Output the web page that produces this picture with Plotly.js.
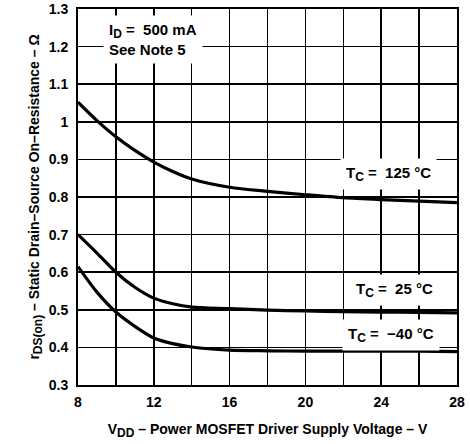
<!DOCTYPE html>
<html>
<head>
<meta charset="utf-8">
<script src="https://cdn.plot.ly/plotly-3.0.1.min.js"></script>
<style>html,body{margin:0;padding:0;background:#fff;}#chart{width:470px;height:444px;}</style>
</head>
<body>
<div id="chart"></div>
<script>
const vdd = [8, 9, 10, 11, 12, 13, 14, 16, 18, 20, 22, 24, 26, 28];
const r125 = [1.052, 1.003, 0.960, 0.924, 0.893, 0.868, 0.848, 0.826, 0.815, 0.806, 0.798, 0.793, 0.789, 0.785];
const r25 = [0.700, 0.651, 0.600, 0.560, 0.531, 0.516, 0.507, 0.503, 0.499, 0.497, 0.495, 0.494, 0.493, 0.492];
const rm40 = [0.615, 0.547, 0.494, 0.456, 0.425, 0.410, 0.401, 0.393, 0.391, 0.390, 0.390, 0.390, 0.390, 0.389];
const xTicks = [8, 12, 16, 20, 24, 28];
const yTicks = [0.3, 0.4, 0.5, 0.6, 0.7, 0.8, 0.9, 1.0, 1.1, 1.2, 1.3];
const yTickText = ['0.3', '0.4', '0.5', '0.6', '0.7', '0.8', '0.9', '1', '1.1', '1.2', '1.3'];

const F = 'Arial, "Liberation Sans", Helvetica, sans-serif';
const lineStyle = {color: '#000', width: 3.2, shape: 'spline', smoothing: 0.8};

const traces = [
  {x: vdd, y: r125, mode: 'lines', line: lineStyle, name: '125', hoverinfo: 'skip'},
  {x: vdd, y: r25, mode: 'lines', line: lineStyle, name: '25', hoverinfo: 'skip'},
  {x: vdd, y: rm40, mode: 'lines', line: lineStyle, name: '-40', hoverinfo: 'skip'}
];

const labelFont = {family: F, size: 14, color: '#000', weight: 'bold'};
const noteFont = {family: F, size: 15, color: '#000', weight: 'bold'};
const sub = s => '<sub><span style="font-size:12px">' + s + '</span></sub>';

const layout = {
  width: 470, height: 444,
  margin: {l: 78, r: 13, t: 9, b: 59},
  paper_bgcolor: '#fff', plot_bgcolor: '#fff',
  showlegend: false,
  xaxis: {
    range: [8, 28], tickvals: xTicks, ticktext: xTicks.map(String),
    showgrid: true, gridcolor: '#000', gridwidth: 1.5,
    minor: {dtick: 2, tick0: 8, showgrid: true, gridcolor: '#000', gridwidth: 1.5},
    showline: true, linecolor: '#000', linewidth: 2, mirror: true,
    zeroline: false, ticks: '', ticklabelstandoff: 3,
    tickfont: labelFont,
    title: {text: 'V' + sub('DD') + ' – Power MOSFET Driver Supply Voltage – V', font: labelFont, standoff: 15}
  },
  yaxis: {
    range: [0.3, 1.3], tickvals: yTicks, ticktext: yTickText,
    showgrid: true, gridcolor: '#000', gridwidth: 1.5,
    showline: true, linecolor: '#000', linewidth: 2, mirror: true,
    zeroline: false, ticks: '', ticklabelstandoff: 5,
    tickfont: labelFont,
    title: {text: 'r' + sub('DS(on)') + ' – Static Drain–Source On–Resistance – Ω', font: labelFont, standoff: 6}
  },
  annotations: [
    {xref: 'x', yref: 'y', x: 9.3, y: 1.22, xanchor: 'left', yanchor: 'middle', align: 'left',
     text: 'I' + sub('D') + ' =  500 mA<br>See Note 5', showarrow: false, font: noteFont,
     bgcolor: '#fff', borderpad: 5},
    {xref: 'x', yref: 'y', x: 24.4, y: 0.86, xanchor: 'center', yanchor: 'middle',
     text: 'T' + sub('C') + ' =  125 °C', showarrow: false, font: noteFont, bgcolor: '#fff', borderpad: 5},
    {xref: 'x', yref: 'y', x: 24.7, y: 0.553, xanchor: 'center', yanchor: 'middle',
     text: 'T' + sub('C') + ' =  25 °C', showarrow: false, font: noteFont, bgcolor: '#fff', borderpad: 5},
    {xref: 'x', yref: 'y', x: 24.5, y: 0.433, xanchor: 'center', yanchor: 'middle',
     text: 'T' + sub('C') + ' =  −40 °C', showarrow: false, font: noteFont, bgcolor: '#fff', borderpad: 5}
  ]
};

Plotly.newPlot('chart', traces, layout, {staticPlot: true, displayModeBar: false});
</script>
</body>
</html>
